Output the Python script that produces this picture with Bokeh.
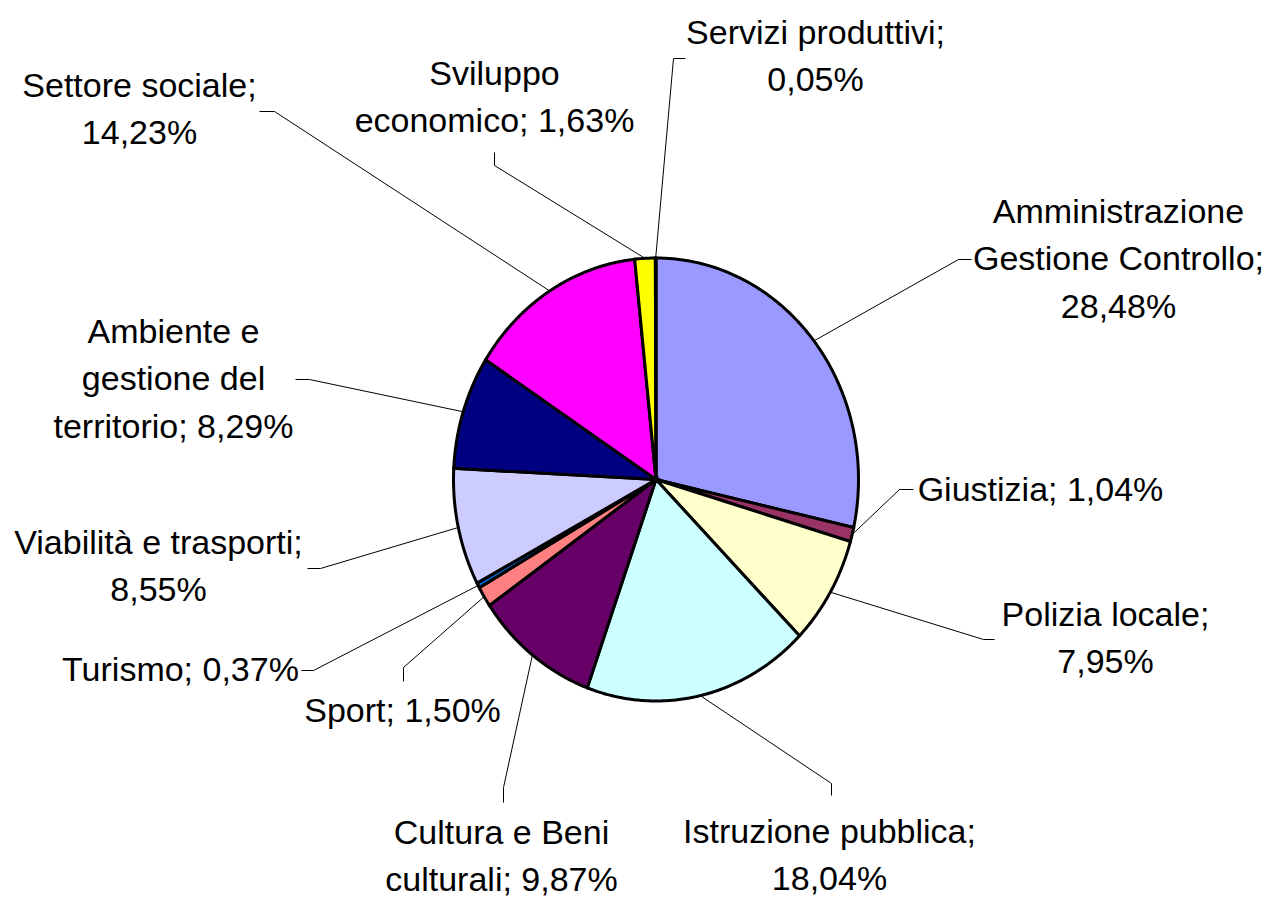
import numpy as np
from bokeh.plotting import figure
from bokeh.models import Range1d, ColumnDataSource
from bokeh.embed import file_html
from bokeh.resources import INLINE
from bokeh.core.properties import value

# ---------------- data ----------------
categories = [
    "Amministrazione Gestione Controllo", "Giustizia", "Polizia locale",
    "Istruzione pubblica", "Cultura e Beni culturali", "Sport", "Turismo",
    "Viabilità e trasporti", "Ambiente e gestione del territorio",
    "Settore sociale", "Sviluppo economico", "Servizi produttivi",
]
shares = [28.48, 1.04, 7.95, 18.04, 9.87, 1.50, 0.37, 8.55, 8.29, 14.23, 1.63, 0.05]
colors = ["#9999FF", "#993366", "#FFFFCC", "#CCFFFF", "#660066", "#FF8080",
          "#0066CC", "#CCCCFF", "#000080", "#FF00FF", "#FFFF00", "#00FFFF"]

# ---------------- layout (screen-pixel coordinates) ----------------
W, H = 1265, 897
OX, OY = 0, 0
CX, CY, RX, RY = 655.5, 479.0, 202.5, 221.5
FONT = "Liberation Sans"
FS = 34
GAP = 47.5

# label: centre x, first line centre y, words per line, leader knee points
label_layout = [
    dict(x=1118, y=210, lines=[1, 2, 1], knee=[(971, 259), (958, 259)]),
    dict(x=1040, y=488, lines=[2], knee=[(913, 489), (899, 489)]),
    dict(x=1105, y=613, lines=[2, 1], knee=[(994, 639), (983, 639)]),
    dict(x=829, y=830, lines=[2, 1], knee=[(831, 795), (831, 783)]),
    dict(x=501, y=831, lines=[3, 2], knee=[(503, 802), (503, 787)]),
    dict(x=402, y=709, lines=[2], knee=[(403, 681), (403, 667)]),
    dict(x=180, y=668, lines=[2], knee=[(301, 670), (313, 670)]),
    dict(x=158, y=541, lines=[3, 1], knee=[(307, 568), (320, 568)]),
    dict(x=173, y=330, lines=[2, 2, 2], knee=[(295, 379), (309, 379)]),
    dict(x=139, y=84, lines=[2, 1], knee=[(259, 111), (274, 111)]),
    dict(x=494, y=72, lines=[1, 2], knee=[(494, 152), (494, 165)]),
    dict(x=815, y=31, lines=[2, 1], knee=[(685, 58), (673, 58)]),
]

p = figure(width=W, height=H, output_backend="svg", toolbar_location=None,
           x_range=Range1d(OX, OX + W), y_range=Range1d(OY + H, OY),
           min_border=0, background_fill_color="white", border_fill_color="white")
p.axis.visible = False
p.grid.visible = False
p.outline_line_color = None

def pt(frac):
    t = 2 * np.pi * frac
    return CX + RX * np.sin(t), CY - RY * np.cos(t)

total = sum(shares)
xs, ys, mids = [], [], []
cum = 0.0
for s in shares:
    f0, f1 = cum / total, (cum + s) / total
    n = max(3, int((f1 - f0) * 720))
    fr = np.linspace(f0, f1, n)
    ax, ay = pt(fr)
    xs.append([CX] + list(ax))
    ys.append([CY] + list(ay))
    mids.append((f0 + f1) / 2)
    cum += s

src = ColumnDataSource(dict(xs=xs, ys=ys, color=colors, cat=categories))
p.patches("xs", "ys", source=src, fill_color="color", line_color="black",
          line_width=3, line_join="miter")

# leader lines
lx, ly = [], []
for lay, m in zip(label_layout, mids):
    ex, ey = pt(m)
    lx.append([k[0] for k in lay["knee"]] + [float(ex)])
    ly.append([k[1] for k in lay["knee"]] + [float(ey)])
p.multi_line(lx, ly, line_color="black", line_width=1)

# labels
tx, ty, tt = [], [], []
for cat, s, lay in zip(categories, shares, label_layout):
    words = (f"{cat}; " + f"{s:.2f}".replace(".", ",") + "%").split(" ")
    i = 0
    for k, nw in enumerate(lay["lines"]):
        tt.append(" ".join(words[i:i + nw]))
        i += nw
        tx.append(lay["x"])
        ty.append(lay["y"] + k * GAP)
p.text(tx, ty, text=tt, text_font=value(FONT), text_font_size=f"{FS}px",
       text_align="center", text_baseline="middle", text_color="black")

open("out.html", "w").write(file_html(p, INLINE))
